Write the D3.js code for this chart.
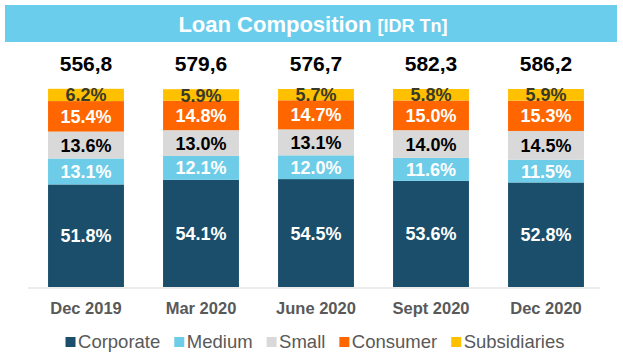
<!DOCTYPE html>
<html>
<head>
<meta charset="utf-8">
<script src="https://cdn.jsdelivr.net/npm/d3@7"></script>
<style>
html,body{margin:0;padding:0;background:#fff;}
svg{display:block;font-family:"Liberation Sans",Arial,sans-serif;}
</style>
</head>
<body>
<svg id="chart" width="623" height="357"></svg>
<script>
const categories = ["Dec 2019", "Mar 2020", "June 2020", "Sept 2020", "Dec 2020"];
const totals = ["556,8", "579,6", "576,7", "582,3", "586,2"];
const seriesNames = ["Corporate", "Medium", "Small", "Consumer", "Subsidiaries"];
const corporate = [51.8, 54.1, 54.5, 53.6, 52.8];
const medium = [13.1, 12.1, 12.0, 11.6, 11.5];
const small = [13.6, 13.0, 13.1, 14.0, 14.5];
const consumer = [15.4, 14.8, 14.7, 15.0, 15.3];
const subsidiaries = [6.2, 5.9, 5.7, 5.8, 5.9];

const colors = ["#1A4E6A", "#6DCDE8", "#D9D9D9", "#FF6600", "#FFC000"];
const labelColors = ["#FFFFFF", "#FFFFFF", "#000000", "#FFFFFF", "#3A3A2A"];

const seriesValues = [corporate, medium, small, consumer, subsidiaries];
const rows = categories.map((c, i) => {
  const r = {category: c};
  seriesNames.forEach((s, j) => r[s] = seriesValues[j][i]);
  return r;
});
const stacked = d3.stack().keys(seriesNames)(rows);

const svg = d3.select("#chart");

// Title banner
svg.append("rect").attr("x", 5).attr("y", 5).attr("width", 612).attr("height", 37).attr("fill", "#6ACDEC");
const title = svg.append("text").attr("x", 313).attr("y", 32).attr("text-anchor", "middle")
  .attr("fill", "#fff").attr("font-weight", "bold");
title.append("tspan").attr("font-size", 22).text("Loan Composition ");
title.append("tspan").attr("font-size", 18).text("[IDR Tn]");

const x = d3.scaleBand().domain(categories).range([28.5, 603.5]).paddingInner(0.34).paddingOuter(0.17);
const y = d3.scaleLinear().domain([0, 100]).range([287, 89]);

// Bars
const groups = svg.append("g").selectAll("g").data(stacked).join("g")
  .attr("fill", (d, i) => colors[i]);
groups.selectAll("rect").data(d => d).join("rect")
  .attr("x", d => x(d.data.category))
  .attr("width", x.bandwidth())
  .attr("y", d => y(d[1]))
  .attr("height", d => y(d[0]) - y(d[1]));

// Segment labels
const lgroups = svg.append("g").selectAll("g").data(stacked).join("g")
  .attr("fill", (d, i) => labelColors[i]);
lgroups.selectAll("text").data(d => d).join("text")
  .attr("x", d => x(d.data.category) + x.bandwidth() / 2)
  .attr("y", d => (y(d[0]) + y(d[1])) / 2)
  .attr("dy", "0.36em")
  .attr("text-anchor", "middle")
  .attr("font-size", 18).attr("font-weight", "bold")
  .text((d, i, n) => d3.select(n[i].parentNode).datum().key && (d[1] - d[0]).toFixed(1) + "%");

// Totals
svg.append("g").selectAll("text").data(categories).join("text")
  .attr("x", d => x(d) + x.bandwidth() / 2)
  .attr("y", 71)
  .attr("text-anchor", "middle")
  .attr("font-size", 21).attr("font-weight", "bold").attr("fill", "#000")
  .text((d, i) => totals[i]);

// Axis
const axis = svg.append("g").attr("transform", "translate(0,288)")
  .call(d3.axisBottom(x).tickSize(0).tickPadding(0));
axis.select(".domain").remove();
svg.append("line").attr("x1", 28).attr("x2", 600).attr("y1", 288).attr("y2", 288)
  .attr("stroke", "#D9D9D9").attr("stroke-width", 1);
axis.selectAll("text")
  .attr("y", 26).attr("dy", null)
  .attr("font-family", "Liberation Sans, Arial, sans-serif")
  .attr("font-size", 16.5).attr("font-weight", "bold").attr("fill", "#595959");

// Legend
const legend = svg.append("g");
const items = legend.selectAll("g").data(seriesNames).join("g");
items.append("rect").attr("width", 10).attr("height", 10).attr("y", 337)
  .attr("fill", (d, i) => colors[i]);
items.append("text").attr("x", 12.5).attr("y", 348)
  .attr("font-size", 18.5).attr("fill", "#595959").text(d => d);
const widths = [];
items.each(function() { widths.push(12.5 + d3.select(this).select("text").node().getComputedTextLength()); });
const spacing = 14;
const totalW = d3.sum(widths) + spacing * (widths.length - 1);
let cx = 315 - totalW / 2;
items.each(function(d, i) {
  d3.select(this).attr("transform", `translate(${cx},0)`);
  cx += widths[i] + spacing;
});
</script>
</body>
</html>
